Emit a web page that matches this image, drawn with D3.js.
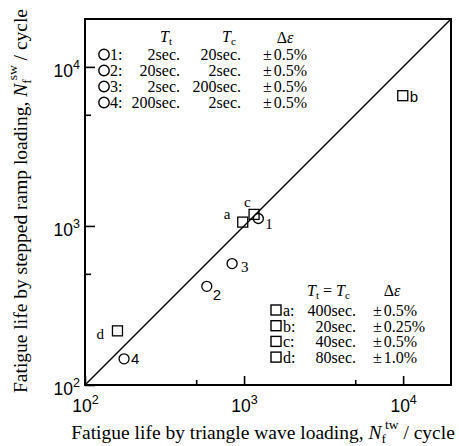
<!DOCTYPE html>
<html>
<head>
<meta charset="utf-8">
<script src="https://cdn.jsdelivr.net/npm/d3@7"></script>
<style>
  body { margin: 0; background: #fff; }
  svg { display: block; }
  .serif { font-family: "Liberation Serif", "DejaVu Serif", serif; fill: #000; }
  .sans { font-family: "Liberation Sans", Arial, sans-serif; fill: #000; }
</style>
</head>
<body>
<div id="chart"></div>
<script>
// Circle series: Tt != Tc tests (ids 1..4)
const circleIds = ["1", "2", "3", "4"];
const circleX = [1230, 583, 841, 176];   // N_f^tw
const circleY = [1114, 417, 580, 146];   // N_f^sw

// Square series: Tt = Tc tests (ids a..d)
const squareIds = ["a", "b", "c", "d"];
const squareX = [981, 9950, 1156, 160];
const squareY = [1057, 6590, 1182, 219];

// legend tables
const circleTt = ["2sec.", "20sec.", "2sec.", "200sec."];
const circleTc = ["20sec.", "2sec.", "200sec.", "2sec."];
const circleDe = ["\u00b10.5%", "\u00b10.5%", "\u00b10.5%", "\u00b10.5%"];
const squareT = ["400sec.", "20sec.", "40sec.", "80sec."];
const squareDe = ["\u00b10.5%", "\u00b10.25%", "\u00b10.5%", "\u00b11.0%"];

// axis ticks
const majorTicks = [1e2, 1e3, 1e4];
const minorTicks = [5e2, 5e3];
const domain = [100, 20000];

// where each point's label sits relative to its marker
const labelOffset = {
  "1": [7, 11, "serif"], "2": [6, 14, "sans"], "3": [9, 8, "serif"], "4": [7, 5, "sans"],
  "a": [-19, -3, "serif"], "b": [7, 6, "sans"], "c": [-10, -7, "serif"], "d": [-21, 8, "serif"]
};

function PlotGraph(parent_element = "chart") {
  const W = 459, H = 446;
  const left = 85, right = 451, top = 19, bottom = 385;

  const x = d3.scaleLog().domain(domain).range([left, right]);
  const y = d3.scaleLog().domain(domain).range([bottom, top]);

  const svg = d3.select("#" + parent_element).append("svg")
    .attr("width", W)
    .attr("height", H);

  // Frame
  svg.append("rect")
    .attr("x", left).attr("y", top)
    .attr("width", right - left).attr("height", bottom - top)
    .attr("fill", "none").attr("stroke", "#000").attr("stroke-width", 2);

  // 1:1 line
  svg.append("line")
    .attr("x1", x(domain[0])).attr("y1", y(domain[0]))
    .attr("x2", x(domain[1])).attr("y2", y(domain[1]))
    .attr("stroke", "#000").attr("stroke-width", 1.5);

  // Axes (ticks point inward)
  const xAxis = svg.append("g")
    .attr("transform", `translate(0,${bottom})`)
    .call(d3.axisBottom(x).tickValues(majorTicks).tickSize(-9).tickPadding(15));
  const yAxis = svg.append("g")
    .attr("transform", `translate(${left},0)`)
    .call(d3.axisLeft(y).tickValues(majorTicks).tickSize(-10).tickPadding(5));

  svg.append("g")
    .attr("transform", `translate(0,${bottom})`)
    .call(d3.axisBottom(x).tickValues(minorTicks).tickSize(-5).tickFormat(""));
  svg.append("g")
    .attr("transform", `translate(${left},0)`)
    .call(d3.axisLeft(y).tickValues(minorTicks).tickSize(-6).tickFormat(""));

  svg.selectAll(".domain").remove();
  svg.selectAll(".tick line").attr("stroke", "#000").attr("stroke-width", 1.6);

  [xAxis, yAxis].forEach((ax, i) => {
    ax.selectAll(".tick text")
      .attr("class", "sans")
      .attr("font-size", 17.5)
      .attr("dy", i === 0 ? "0.71em" : "0.55em")
      .text("10")
      .append("tspan")
      .attr("dy", -8)
      .attr("font-size", 12.5)
      .text(d => Math.round(Math.log10(d)));
  });

  // Axis titles
  function title(g, main, sup) {
    g.append("tspan").text(main);
    g.append("tspan").attr("font-style", "italic").text("N");
    g.append("tspan").attr("font-size", 13.5).attr("dy", 4).text("f");
    g.append("tspan").attr("font-size", 13.5).attr("dx", -1).attr("dy", -14).text(sup);
    g.append("tspan").attr("dy", 10).text(" / cycle");
  }
  const xt = svg.append("text").attr("class", "serif")
    .attr("x", 263).attr("y", 439)
    .attr("text-anchor", "middle").attr("font-size", 19.5);
  title(xt, "Fatigue life by triangle wave loading,  ", "tw");

  const yt = svg.append("text").attr("class", "serif")
    .attr("transform", "translate(27,201) rotate(-90)")
    .attr("text-anchor", "middle").attr("font-size", 19.5);
  title(yt, "Fatigue life by stepped ramp loading,  ", "sw");

  // Data points
  const circles = circleIds.map((id, i) => ({id, x: circleX[i], y: circleY[i]}));
  const squares = squareIds.map((id, i) => ({id, x: squareX[i], y: squareY[i]}));

  svg.selectAll(".pt-c").data(circles).enter().append("circle")
    .attr("cx", d => x(d.x)).attr("cy", d => y(d.y)).attr("r", 5)
    .attr("fill", "none").attr("stroke", "#000").attr("stroke-width", 1.3);

  svg.selectAll(".pt-s").data(squares).enter().append("rect")
    .attr("x", d => x(d.x) - 5).attr("y", d => y(d.y) - 5)
    .attr("width", 10).attr("height", 10)
    .attr("fill", "none").attr("stroke", "#000").attr("stroke-width", 1.3);

  svg.selectAll(".pt-lab").data(circles.concat(squares)).enter().append("text")
    .attr("class", d => labelOffset[d.id][2])
    .attr("font-size", 15)
    .attr("x", d => x(d.x) + labelOffset[d.id][0])
    .attr("y", d => y(d.y) + labelOffset[d.id][1])
    .text(d => d.id);

  // Legend helpers
  function subT(g, sub) {
    g.append("tspan").attr("font-style", "italic").text("T");
    g.append("tspan").attr("font-size", 11).attr("dy", 3).text(sub);
  }
  function pm(g, s) {
    g.append("tspan").text(s.charAt(0));
    g.append("tspan").attr("dx", 2).text(s.slice(1));
  }

  // Legend 1 (circles)
  const lg1 = svg.append("g").attr("class", "serif").attr("font-size", 16);
  subT(lg1.append("text").attr("x", 160).attr("y", 42), "t");
  subT(lg1.append("text").attr("x", 222).attr("y", 42), "c");
  const de1 = lg1.append("text").attr("x", 285).attr("y", 43).attr("text-anchor", "middle");
  de1.append("tspan").text("\u0394");
  de1.append("tspan").attr("font-style", "italic").text("\u03b5");

  const rows1 = lg1.selectAll(".row").data(circleIds).enter().append("g")
    .attr("transform", (d, i) => `translate(0,${60 + i * 16})`);
  rows1.append("circle").attr("cx", 104).attr("cy", -5.5).attr("r", 5.2)
    .attr("fill", "none").attr("stroke", "#000").attr("stroke-width", 1.4);
  rows1.append("text").attr("x", 110).text(d => d + ":");
  rows1.append("text").attr("x", 180).attr("text-anchor", "end").text((d, i) => circleTt[i]);
  rows1.append("text").attr("x", 241).attr("text-anchor", "end").text((d, i) => circleTc[i]);
  rows1.append("text").attr("x", 263).each(function(d, i) { pm(d3.select(this), circleDe[i]); });

  // Legend 2 (squares)
  const lg2 = svg.append("g").attr("class", "serif").attr("font-size", 16);
  const h2 = lg2.append("text").attr("x", 307).attr("y", 296);
  subT(h2, "t");
  h2.append("tspan").attr("dy", -3).text(" = ");
  subT(h2, "c");
  const de2 = lg2.append("text").attr("x", 392).attr("y", 296).attr("text-anchor", "middle");
  de2.append("tspan").text("\u0394");
  de2.append("tspan").attr("font-style", "italic").text("\u03b5");

  const rows2 = lg2.selectAll(".row").data(squareIds).enter().append("g")
    .attr("transform", (d, i) => `translate(0,${316 + i * 15.7})`);
  rows2.append("rect").attr("x", 271).attr("y", -11).attr("width", 10).attr("height", 10)
    .attr("fill", "none").attr("stroke", "#000").attr("stroke-width", 1.4);
  rows2.append("text").attr("x", 283).text(d => d + ":");
  rows2.append("text").attr("x", 356).attr("text-anchor", "end").text((d, i) => squareT[i]);
  rows2.append("text").attr("x", 373).each(function(d, i) { pm(d3.select(this), squareDe[i]); });
}

document.addEventListener("DOMContentLoaded", () => {
  PlotGraph();
});
</script>
</body>
</html>
